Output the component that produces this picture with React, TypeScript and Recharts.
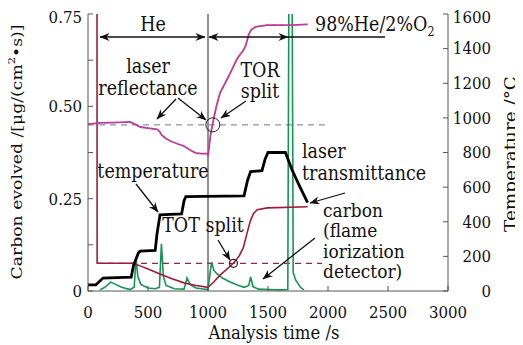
import { ComposedChart, Line, XAxis, YAxis, ReferenceLine, ReferenceDot } from "recharts";

// axis ticks
const timeTicks = [0, 500, 1000, 1500, 2000, 2500, 3000];
const carbonTicks = [0, 0.125, 0.25, 0.375, 0.5, 0.625, 0.75];
const tempTicks = [0, 200, 400, 600, 800, 1000, 1200, 1400, 1600];

// [time s, value]
const reflectance = [
  [0, 0.452], [100, 0.455], [200, 0.456], [300, 0.457], [350, 0.458], [390, 0.452],
  [435, 0.444], [500, 0.441], [575, 0.438], [600, 0.43], [615, 0.422], [650, 0.413],
  [685, 0.406], [750, 0.398], [795, 0.393], [850, 0.382], [895, 0.374], [940, 0.372],
  [995, 0.372], [1000, 0.365], [1020, 0.42], [1045, 0.463], [1070, 0.5], [1100, 0.536],
  [1170, 0.58], [1245, 0.63], [1295, 0.652], [1315, 0.665], [1340, 0.695], [1360, 0.707],
  [1395, 0.715], [1495, 0.72], [1690, 0.72], [1830, 0.722],
];

const transmittance = [
  [75, 0.8], [76, 0.075], [375, 0.075], [450, 0.066], [520, 0.057], [600, 0.046],
  [700, 0.033], [800, 0.022], [900, 0.015], [1000, 0.01], [1050, 0.025], [1100, 0.043],
  [1160, 0.06], [1212, 0.075], [1260, 0.095], [1295, 0.118], [1320, 0.15], [1353, 0.19],
  [1380, 0.21], [1410, 0.22], [1495, 0.225], [1830, 0.228],
];

const carbonFid = [
  [100, 0.003], [140, 0.01], [190, 0.024], [230, 0.018], [280, 0.01], [350, 0.004],
  [385, 0.01], [400, 0.09], [415, 0.04], [440, 0.018], [500, 0.008], [560, 0.006],
  [595, 0.01], [612, 0.128], [628, 0.04], [650, 0.015], [720, 0.006], [800, 0.005],
  [825, 0.035], [850, 0.018], [900, 0.008], [990, 0.004], [1000, 0.006], [1030, 0.078],
  [1050, 0.055], [1080, 0.045], [1120, 0.035], [1180, 0.025], [1245, 0.016], [1300, 0.01],
  [1340, 0.015], [1355, 0.038], [1375, 0.012], [1420, 0.005], [1500, 0.004], [1600, 0.003],
  [1665, 0.004], [1675, 0.9], [1700, 0.9], [1710, 0.05], [1730, 0.03], [1770, 0.01],
  [1800, 0.003],
];

// °C
const temperature = [
  [0, 35], [65, 35], [125, 75], [360, 80], [380, 150], [420, 220], [435, 230], [560, 235],
  [575, 330], [600, 440], [780, 445], [800, 520], [815, 545], [1300, 550], [1330, 640],
  [1355, 690], [1450, 695], [1475, 760], [1500, 800], [1645, 800], [1700, 700],
  [1760, 610], [1830, 510],
];

const reflectanceBase = [[0, 0.45], [1975, 0.45]];
const transmittanceBase = [[75, 0.075], [1950, 0.075]];

const pts = (arr: number[][]) => arr.map(([t, v]) => ({ t, v }));

const FONT = "'DejaVu Serif', serif";
const STRETCH = 1.15;
const AXIS = "#555";

const LeftTick = ({ x, y, payload }: any) => {
  const v = payload.value;
  if (Math.abs(v * 4 - Math.round(v * 4)) > 1e-6) return null;
  return (
    <text transform={`translate(${x},${y}) scale(1,${STRETCH})`} textAnchor="end" dominantBaseline="central"
      fontSize={15} fontFamily={FONT} fill="#111">
      {v === 0 ? "0" : v.toFixed(2)}
    </text>
  );
};

const RightTick = ({ x, y, payload }: any) => (
  <text transform={`translate(${x + 40},${y}) scale(1,${STRETCH})`} textAnchor="end" dominantBaseline="central"
    fontSize={15} fontFamily={FONT} fill="#111">
    {payload.value}
  </text>
);

const BottomTick = ({ x, y, payload }: any) => (
  <text transform={`translate(${x},${y}) scale(1,${STRETCH})`} textAnchor="middle"
    fontSize={15} fontFamily={FONT} fill="#111">
    {payload.value}
  </text>
);

const NoTick = () => null;

const Txt = ({ x, y, anchor = "middle", size = 17.5, k = STRETCH, children }: any) => (
  <text transform={`translate(${x},${y}) scale(1,${k})`} textAnchor={anchor} fontSize={size}
    fontFamily={FONT} fill="#111">
    {children}
  </text>
);

const Arrow = ({ x1, y1, x2, y2, both = false }: any) => (
  <line x1={x1} y1={y1} x2={x2} y2={y2} stroke="#111" strokeWidth={1.3}
    markerEnd="url(#ah)" markerStart={both ? "url(#ah)" : undefined} />
);

// overlay covers the whole page (body margin is 8px), so coordinates are page pixels
const Annotations = () => (
  <svg width={523} height={345}
    style={{ position: "absolute", left: -8, top: -8, pointerEvents: "none", overflow: "visible" }}>
    <defs>
      <marker id="ah" viewBox="0 0 10 8" refX="9.5" refY="4" markerWidth="11" markerHeight="8"
        markerUnits="userSpaceOnUse" orient="auto-start-reverse">
        <path d="M0,0 L10,4 L0,8 L3,4 z" fill="#111" />
      </marker>
    </defs>
    {/* gas phases */}
    <Arrow x1={100} y1={37} x2={205} y2={37} both />
    <Txt x={153} y={31}>He</Txt>
    <Arrow x1={209} y1={37} x2={288} y2={37} both />
    <line x1={288} y1={37} x2={385} y2={37} stroke="#111" strokeWidth={1.3} />
    <Txt x={315} y={31} anchor="start">
      98%He/2%O<tspan fontSize={11} dy={4}>2</tspan>
    </Txt>

    <Txt x={148} y={73}>laser</Txt>
    <Txt x={148} y={95}>reflectance</Txt>
    <Arrow x1={176} y1={99} x2={157} y2={119} />
    <Arrow x1={178} y1={98} x2={206} y2={120} />

    <Txt x={260} y={77}>TOR</Txt>
    <Txt x={260} y={98}>split</Txt>
    <Arrow x1={246} y1={101} x2={221} y2={118} />

    <Txt x={153} y={178}>temperature</Txt>
    <Arrow x1={136} y1={184} x2={158} y2={212} />

    <Txt x={203} y={232}>TOT split</Txt>
    <Arrow x1={218} y1={240} x2={230} y2={260} />

    <Txt x={302} y={158} anchor="start">laser</Txt>
    <Txt x={302} y={180} anchor="start">transmittance</Txt>
    <Arrow x1={345} y1={193} x2={310} y2={203} />

    <Txt x={323} y={217} anchor="start" size={17} k={1.05}>carbon</Txt>
    <Txt x={323} y={237} anchor="start" size={17} k={1.05}>(flame</Txt>
    <Txt x={323} y={258} anchor="start" size={17} k={1.05}>iorization</Txt>
    <Txt x={323} y={278} anchor="start" size={17} k={1.05}>detector)</Txt>
    <Arrow x1={315} y1={238} x2={263} y2={279} />

    {/* axis titles */}
    <Txt x={274} y={339} size={16.5}>Analysis time /s</Txt>
    <text transform={`translate(22,152) scale(1,${STRETCH}) rotate(-90)`} textAnchor="middle" fontSize={15}
      fontFamily={FONT} fill="#111">
      Carbon evolved /[μg/(cm<tspan fontSize={10} dy={-7}>2</tspan><tspan dy={7}>•s)]</tspan>
    </text>
    <text transform={`translate(516,154) scale(1,${STRETCH}) rotate(-90)`} textAnchor="middle" fontSize={16}
      fontFamily={FONT} fill="#111">
      Temperature /°C
    </text>
  </svg>
);

export default function App() {
  return (
    <div style={{ position: "relative", width: 515, height: 337, background: "#fff" }}>
      <ComposedChart width={515} height={337} margin={{ top: 6, right: 25, left: 20, bottom: 24 }}>
        <XAxis dataKey="t" type="number" domain={[0, 3000]} ticks={timeTicks} allowDataOverflow
          height={30} tickSize={-5} tickMargin={32} tick={BottomTick} stroke={AXIS} />
        <XAxis xAxisId="top" orientation="top" type="number" domain={[0, 3000]} ticks={timeTicks}
          height={0} tickSize={-5} tick={NoTick} stroke={AXIS} />
        <YAxis yAxisId="left" type="number" domain={[0, 0.75]} ticks={carbonTicks} allowDataOverflow
          width={60} tickSize={-5} tickMargin={11} tick={LeftTick} stroke={AXIS} />
        <YAxis yAxisId="right" orientation="right" type="number" domain={[0, 1600]} ticks={tempTicks}
          allowDataOverflow width={50} tickSize={-5} tickMargin={8} tick={RightTick} stroke={AXIS} />

        <ReferenceLine x={1000} yAxisId="left" stroke="#222" strokeWidth={1} />

        <Line yAxisId="left" data={pts(reflectanceBase)} dataKey="v" stroke="#9090a8" strokeWidth={1.2}
          strokeDasharray="6 5" dot={false} isAnimationActive={false} />
        <Line yAxisId="left" data={pts(transmittanceBase)} dataKey="v" stroke="#8a2a45" strokeWidth={1.3}
          strokeDasharray="6 5" dot={false} isAnimationActive={false} />

        <Line yAxisId="left" data={pts(carbonFid)} dataKey="v" stroke="#159455" strokeWidth={1.6}
          dot={false} isAnimationActive={false} />
        <Line yAxisId="left" data={pts(transmittance)} dataKey="v" stroke="#9e1c3a" strokeWidth={1.6}
          dot={false} isAnimationActive={false} />
        <Line yAxisId="left" data={pts(reflectance)} dataKey="v" stroke="#d4358f" strokeWidth={1.8}
          dot={false} isAnimationActive={false} />
        <Line yAxisId="left" data={pts(reflectance)} dataKey="v" stroke="#6f5fb0" strokeWidth={0.9}
          strokeDasharray="4 4" dot={false} isAnimationActive={false} />
        <Line yAxisId="right" data={pts(temperature)} dataKey="v" stroke="#000" strokeWidth={2.8}
          dot={false} isAnimationActive={false} />

        <ReferenceDot x={1040} y={0.45} yAxisId="left" r={7} fill="none" stroke="#222" strokeWidth={1} />
        <ReferenceDot x={1212} y={0.075} yAxisId="left" r={4} fill="none" stroke="#222" strokeWidth={1.2} />
      </ComposedChart>
      <Annotations />
    </div>
  );
}
